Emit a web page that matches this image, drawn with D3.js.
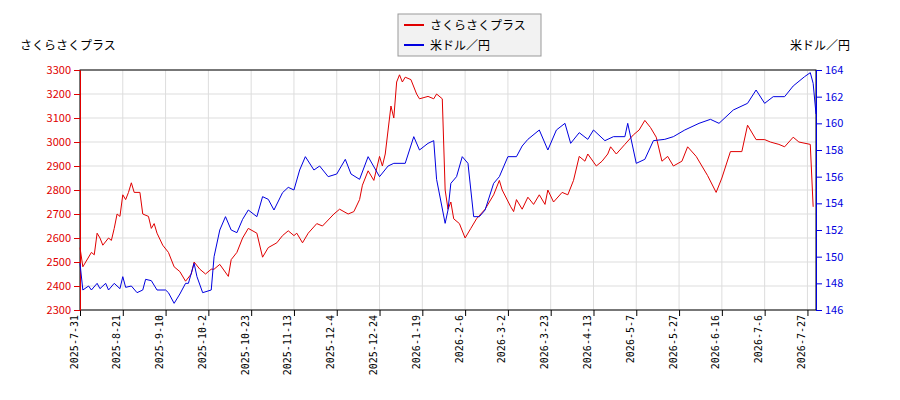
<!DOCTYPE html>
<html><head><meta charset="utf-8">
<script src="https://cdn.jsdelivr.net/npm/d3@7"></script>
<style>body{margin:0;background:#fff}text{font-family:"Noto Sans CJK JP","DejaVu Sans",sans-serif}</style>
</head><body><svg id="c" width="900" height="400"></svg>
<script>
const tickLabels=["2025-7-31","2025-8-21","2025-9-10","2025-10-2","2025-10-23","2025-11-13","2025-12-4","2025-12-24","2026-1-19","2026-2-6","2026-3-2","2026-3-23","2026-4-13","2026-5-7","2026-5-27","2026-6-16","2026-7-6","2026-7-27"];
const stockIdx=[0,1,2,4,5,6,7,8,10,11,12,13,14,15,16,17,18,19,21,22,24,25,26,27,29,31,33,35,37,39,40,42,44,46,47,49,52,53,55,57,59,62,64,66,69,71,73,75,76,78,80,83,85,89,91,94,96,98,99,101,103,105,106,107,109,110,111,112,113,114,116,118,119,122,124,125,127,128,129,130,131,133,135,137,139,142,145,147,148,151,152,153,155,157,159,161,163,164,166,169,171,173,175,177,178,181,183,185,186,188,191,194,196,198,200,202,204,206,208,211,213,216,218,220,223,225,228,232,234,237,240,242,245,247,250,252,256,257];
const stockVal=[2560,2480,2500,2540,2530,2620,2600,2570,2600,2590,2640,2700,2690,2780,2760,2790,2830,2790,2790,2700,2690,2640,2660,2620,2570,2540,2480,2460,2420,2450,2500,2470,2450,2470,2470,2490,2440,2510,2540,2600,2640,2620,2520,2560,2580,2610,2630,2610,2620,2580,2620,2660,2650,2700,2720,2700,2710,2760,2820,2880,2840,2940,2900,2950,3150,3100,3250,3280,3250,3270,3260,3200,3180,3190,3180,3200,3180,2800,2720,2750,2680,2660,2600,2640,2680,2720,2780,2840,2800,2730,2710,2760,2720,2770,2740,2780,2740,2800,2750,2790,2780,2840,2940,2920,2950,2900,2920,2950,2980,2950,2990,3030,3050,3090,3060,3020,2920,2940,2900,2920,2980,2940,2900,2860,2790,2850,2960,2960,3070,3010,3010,3000,2990,2980,3020,3000,2990,2730];
const fxIdx=[0,1,3,4,6,7,9,10,12,14,15,16,18,20,22,23,25,27,30,31,33,35,37,38,40,41,43,46,47,49,51,53,55,57,59,62,64,66,68,71,73,75,77,79,82,84,87,90,93,95,98,101,105,108,110,114,117,119,122,124,125,128,129,130,132,134,136,138,140,142,145,147,150,153,155,157,161,164,167,170,172,175,178,180,184,187,191,192,195,198,201,205,208,212,217,221,224,229,234,237,240,243,247,250,254,256,257,258];
const fxVal=[149.5,147.5,147.8,147.5,148,147.6,148,147.5,148,147.6,148.5,147.7,147.8,147.3,147.5,148.3,148.2,147.5,147.5,147.3,146.5,147.2,148,148,149.5,148.5,147.3,147.5,150,152,153,152,151.8,152.8,153.5,153,154.5,154.3,153.5,154.8,155.2,155,156.5,157.5,156.5,156.8,156,156.2,157.3,156.2,155.8,157.5,156,156.8,157,157,159,158,158.5,158.7,155.8,152.5,153.5,155.5,156,157.5,157,153,153,153.5,155.5,156,157.5,157.5,158.3,158.8,159.5,158,159.5,160,158.5,159.3,158.8,159.5,158.7,159,159,160,157,157.3,158.7,158.8,159,159.5,160,160.3,160,161,161.5,162.5,161.5,162,162,162.8,163.5,163.8,163,160.7];
const leftTicks=d3.range(2300,3301,100), rightTicks=d3.range(146,165,2);

const svg=d3.select("#c");
const L=80,R=816,T=70,B=310;
const x=d3.scaleLinear().domain([0,258]).range([L,R]);
const yl=d3.scaleLinear().domain([2300,3300]).range([B,T]);
const yr=d3.scaleLinear().domain([146,164]).range([B,T]);
const tickIdx=tickLabels.map((d,i)=>i*15);
const g=svg.append("g");
g.selectAll(".gx").data(tickIdx).join("line").attr("x1",d=>x(d)).attr("x2",d=>x(d)).attr("y1",T).attr("y2",B).attr("stroke","#ddd");
g.selectAll(".gy").data(leftTicks).join("line").attr("x1",L).attr("x2",R).attr("y1",d=>yl(d)).attr("y2",d=>yl(d)).attr("stroke","#ddd");
svg.append("rect").attr("x",L).attr("y",T).attr("width",R-L).attr("height",B-T).attr("fill","none").attr("stroke","#000");
const ax=svg.append("g").attr("transform",`translate(0,${B})`).call(d3.axisBottom(x).tickValues(tickIdx).tickFormat((d,i)=>tickLabels[i]).tickSizeOuter(0));
ax.selectAll("text").attr("transform","rotate(-90)").attr("text-anchor","end").attr("dx","-0.5em").attr("dy","-0.3em").attr("x",0).attr("y",0).style("font-size","10px").style("font-family","DejaVu Sans Mono,monospace");
ax.select(".domain").remove();
const al=svg.append("g").attr("transform",`translate(${L},0)`).call(d3.axisLeft(yl).tickValues(leftTicks).tickFormat(d3.format("d")).tickSizeOuter(0));
al.selectAll("text").style("font-size","11px").attr("fill","#e00000");
al.select(".domain").attr("stroke","#e00000");al.selectAll(".tick line").attr("stroke","#e00000");
const ar=svg.append("g").attr("transform",`translate(${R},0)`).call(d3.axisRight(yr).tickValues(rightTicks).tickSizeOuter(0));
ar.selectAll("text").style("font-size","11px").attr("fill","#0000e0");
ar.select(".domain").attr("stroke","#0000e0");ar.selectAll(".tick line").attr("stroke","#0000e0");
svg.append("path").datum(stockIdx.map((d,i)=>[d,stockVal[i]])).attr("fill","none").attr("stroke","#e00000").attr("stroke-width",1)
 .attr("d",d3.line().x(d=>x(d[0])).y(d=>yl(d[1])));
svg.append("path").datum(fxIdx.map((d,i)=>[d,fxVal[i]])).attr("fill","none").attr("stroke","#0000e0").attr("stroke-width",1)
 .attr("d",d3.line().x(d=>x(d[0])).y(d=>yr(d[1])));
svg.append("text").attr("x",20).attr("y",50).text("さくらさくプラス").style("font-size","12px");
svg.append("text").attr("x",850).attr("y",50).attr("text-anchor","end").text("米ドル／円").style("font-size","12px");
const lg=svg.append("g");
lg.append("rect").attr("x",398).attr("y",14).attr("width",143).attr("height",42).attr("fill","#f2f2f2").attr("stroke","#999");
[["さくらさくプラス","#e00000"],["米ドル／円","#0000e0"]].forEach((d,i)=>{
 lg.append("line").attr("x1",404).attr("x2",424).attr("y1",25+i*20).attr("y2",25+i*20).attr("stroke",d[1]).attr("stroke-width",2);
 lg.append("text").attr("x",430).attr("y",30+i*20).text(d[0]).style("font-size","12px");
});
</script></body></html>
